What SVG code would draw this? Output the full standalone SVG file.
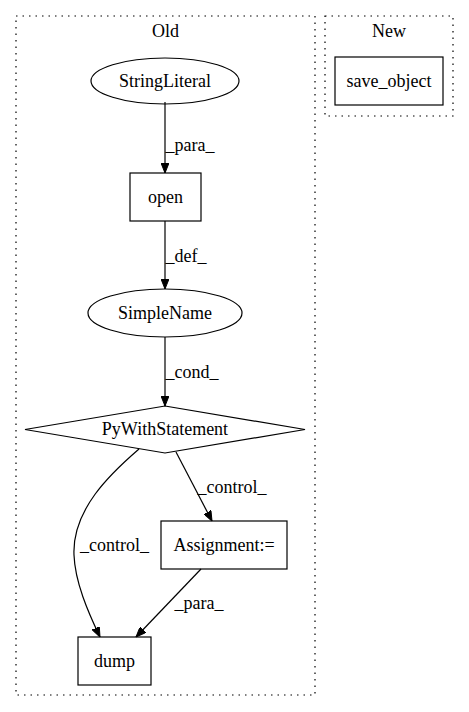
<svg xmlns="http://www.w3.org/2000/svg" width="469" height="712" viewBox="0 0 469 712">
<defs>
<style>
text{font-family:"Liberation Serif","Times New Roman",serif;font-size:18px;fill:#000;text-anchor:middle}
.cl{fill:none;stroke:#000;stroke-width:1.2;stroke-dasharray:1.5,5}
.n{fill:none;stroke:#000;stroke-width:1.2}
.e{fill:none;stroke:#000;stroke-width:1.2;marker-end:url(#ah)}
</style>
<marker id="ah" markerWidth="10" markerHeight="8" refX="10" refY="4" orient="auto" markerUnits="userSpaceOnUse">
<path d="M0,0 L10,4 L0,8 z" fill="#000" stroke="#000" stroke-width="1"/>
</marker>
</defs>
<rect width="469" height="712" fill="#fff"/>
<g id="cluster_old">
<rect class="cl" x="16" y="16" width="299" height="679"/>
<text x="165.5" y="37">Old</text>
</g>
<g id="cluster_new">
<rect class="cl" x="325" y="16" width="128" height="100"/>
<text x="389" y="37">New</text>
</g>
<g id="connectors">
<path class="e" d="M165,102 L165,173"/>
<text x="190" y="151">_para_</text>
<path class="e" d="M165,221 L165,289"/>
<text x="186" y="262">_def_</text>
<path class="e" d="M165,337 L165,406"/>
<text x="192" y="378">_cond_</text>
<path class="e" d="M176,452 L212,521"/>
<text x="232" y="493">_control_</text>
<path class="e" d="M139,449 C110,474 72,510 74,555 C75,582 88,612 100,637"/>
<text x="114.5" y="551">_control_</text>
<path class="e" d="M201,569 L136,637"/>
<text x="199" y="609">_para_</text>
</g>
<g id="StringLiteral">
<ellipse class="n" cx="165" cy="81" rx="74" ry="23"/>
<text x="165" y="87">StringLiteral</text>
</g>
<g id="open">
<rect class="n" x="130" y="173" width="71" height="48"/>
<text x="165.5" y="203">open</text>
</g>
<g id="SimpleName">
<ellipse class="n" cx="165" cy="313" rx="77" ry="24"/>
<text x="165" y="319">SimpleName</text>
</g>
<g id="PyWithStatement">
<polygon class="n" points="165,406 305,429.5 165,453 25,429.5"/>
<text x="165" y="435">PyWithStatement</text>
</g>
<g id="Assignment">
<rect class="n" x="161" y="521" width="126" height="48"/>
<text x="224" y="551">Assignment:=</text>
</g>
<g id="dump">
<rect class="n" x="78" y="637" width="73" height="48"/>
<text x="114.5" y="667">dump</text>
</g>
<g id="save_object">
<rect class="n" x="335" y="57" width="108" height="48"/>
<text x="389" y="87">save_object</text>
</g>
</svg>
